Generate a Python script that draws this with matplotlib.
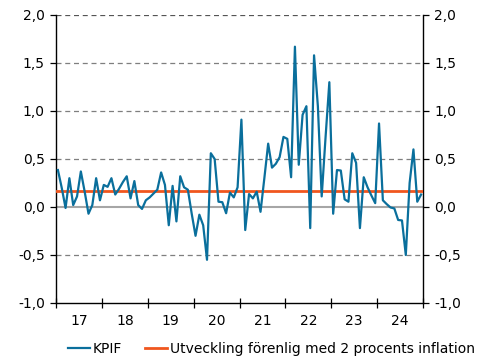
import matplotlib
matplotlib.use('Agg')
import matplotlib.pyplot as plt
import matplotlib.ticker as mticker
import numpy as np

# KPIF, monthly change in percent, Jan 2017 - Dec 2024
kpif = [
    0.385, 0.20, -0.01, 0.30, 0.02, 0.11, 0.37, 0.16, -0.07, 0.02, 0.30, 0.07,   # 2017
    0.23, 0.21, 0.30, 0.13, 0.19, 0.26, 0.32, 0.09, 0.27, 0.02, -0.02, 0.07,     # 2018
    0.10, 0.14, 0.18, 0.36, 0.23, -0.19, 0.22, -0.15, 0.32, 0.205, 0.18, -0.07,  # 2019
    -0.30, -0.08, -0.19, -0.55, 0.56, 0.50, 0.055, 0.05, -0.065, 0.15, 0.10, 0.205,  # 2020
    0.91, -0.24, 0.135, 0.09, 0.16, -0.05, 0.30, 0.66, 0.41, 0.45, 0.52, 0.73,   # 2021
    0.71, 0.31, 1.67, 0.44, 0.96, 1.05, -0.22, 1.58, 1.05, 0.11, 0.72, 1.30,     # 2022
    -0.07, 0.385, 0.38, 0.08, 0.055, 0.56, 0.46, -0.22, 0.31, 0.205, 0.12, 0.04, # 2023
    0.87, 0.07, 0.03, -0.005, -0.015, -0.135, -0.14, -0.50, 0.25, 0.60, 0.055, 0.13,  # 2024
]
target = 0.165  # monthly rate consistent with 2 % annual inflation
years = list(range(2017, 2025))
year_labels = [str(y)[2:] for y in years]

BLUE = '#0a6f9c'
ORANGE = '#f0561e'

x = np.array([years[0] + (i + 0.5) / 12 for i in range(len(kpif))])

fig = plt.figure(figsize=(4.84, 3.58), dpi=100)
ax = fig.add_axes([56 / 484, 1 - 303 / 358, (423 - 56) / 484, (303 - 15) / 358])

ax.set_xlim(years[0], years[-1] + 1)
ax.set_ylim(-1.0, 2.0)

# dashed grid, solid zero line
for yv in [-0.5, 0.5, 1.0, 1.5, 2.0]:
    ax.axhline(yv, color='#7f7f7f' if yv < 2 else '#555555', lw=0.9,
               ls=(0, (4, 3)), zorder=1)
ax.axhline(0, color='#a6a6a6', lw=1.5, zorder=2)

ax.plot(x, kpif, color=BLUE, lw=1.6, zorder=4, label='KPIF')
ax.axhline(target, color=ORANGE, lw=2.0, zorder=3,
           label='Utveckling förenlig med 2 procents inflation')

# x axis: ticks at year boundaries, labels centred in each year
ax.set_xticks(years + [years[-1] + 1])
ax.set_xticklabels([])
ax.set_xticks([y + 0.5 for y in years], minor=True)
ax.set_xticklabels(year_labels, minor=True)
ax.tick_params(axis='x', which='major', direction='inout', length=7, width=0.9)
ax.tick_params(axis='x', which='minor', length=0, pad=8, labelsize=10)

ax.set_yticks(np.arange(-1.0, 2.01, 0.5))
ax.yaxis.set_major_formatter(
    mticker.FuncFormatter(lambda v, p: f'{v:.1f}'.replace('.', ',')))
ax.tick_params(axis='y', which='major', direction='out', length=4, width=0.9,
               labelsize=10, left=True, right=True, labelleft=True,
               labelright=True, pad=4)

ax.spines['top'].set_visible(False)
for side in ['left', 'right', 'bottom']:
    ax.spines[side].set_linewidth(1.0)
    ax.spines[side].set_color('black')

leg = fig.legend(loc='center left', bbox_to_anchor=(68 / 484, 1 - 349 / 358),
                 ncol=2, frameon=False, fontsize=10, handlelength=1.6,
                 handletextpad=0.2, columnspacing=1.6,
                 borderpad=0, borderaxespad=0)

fig.savefig('out.png', dpi=100, facecolor='white')
